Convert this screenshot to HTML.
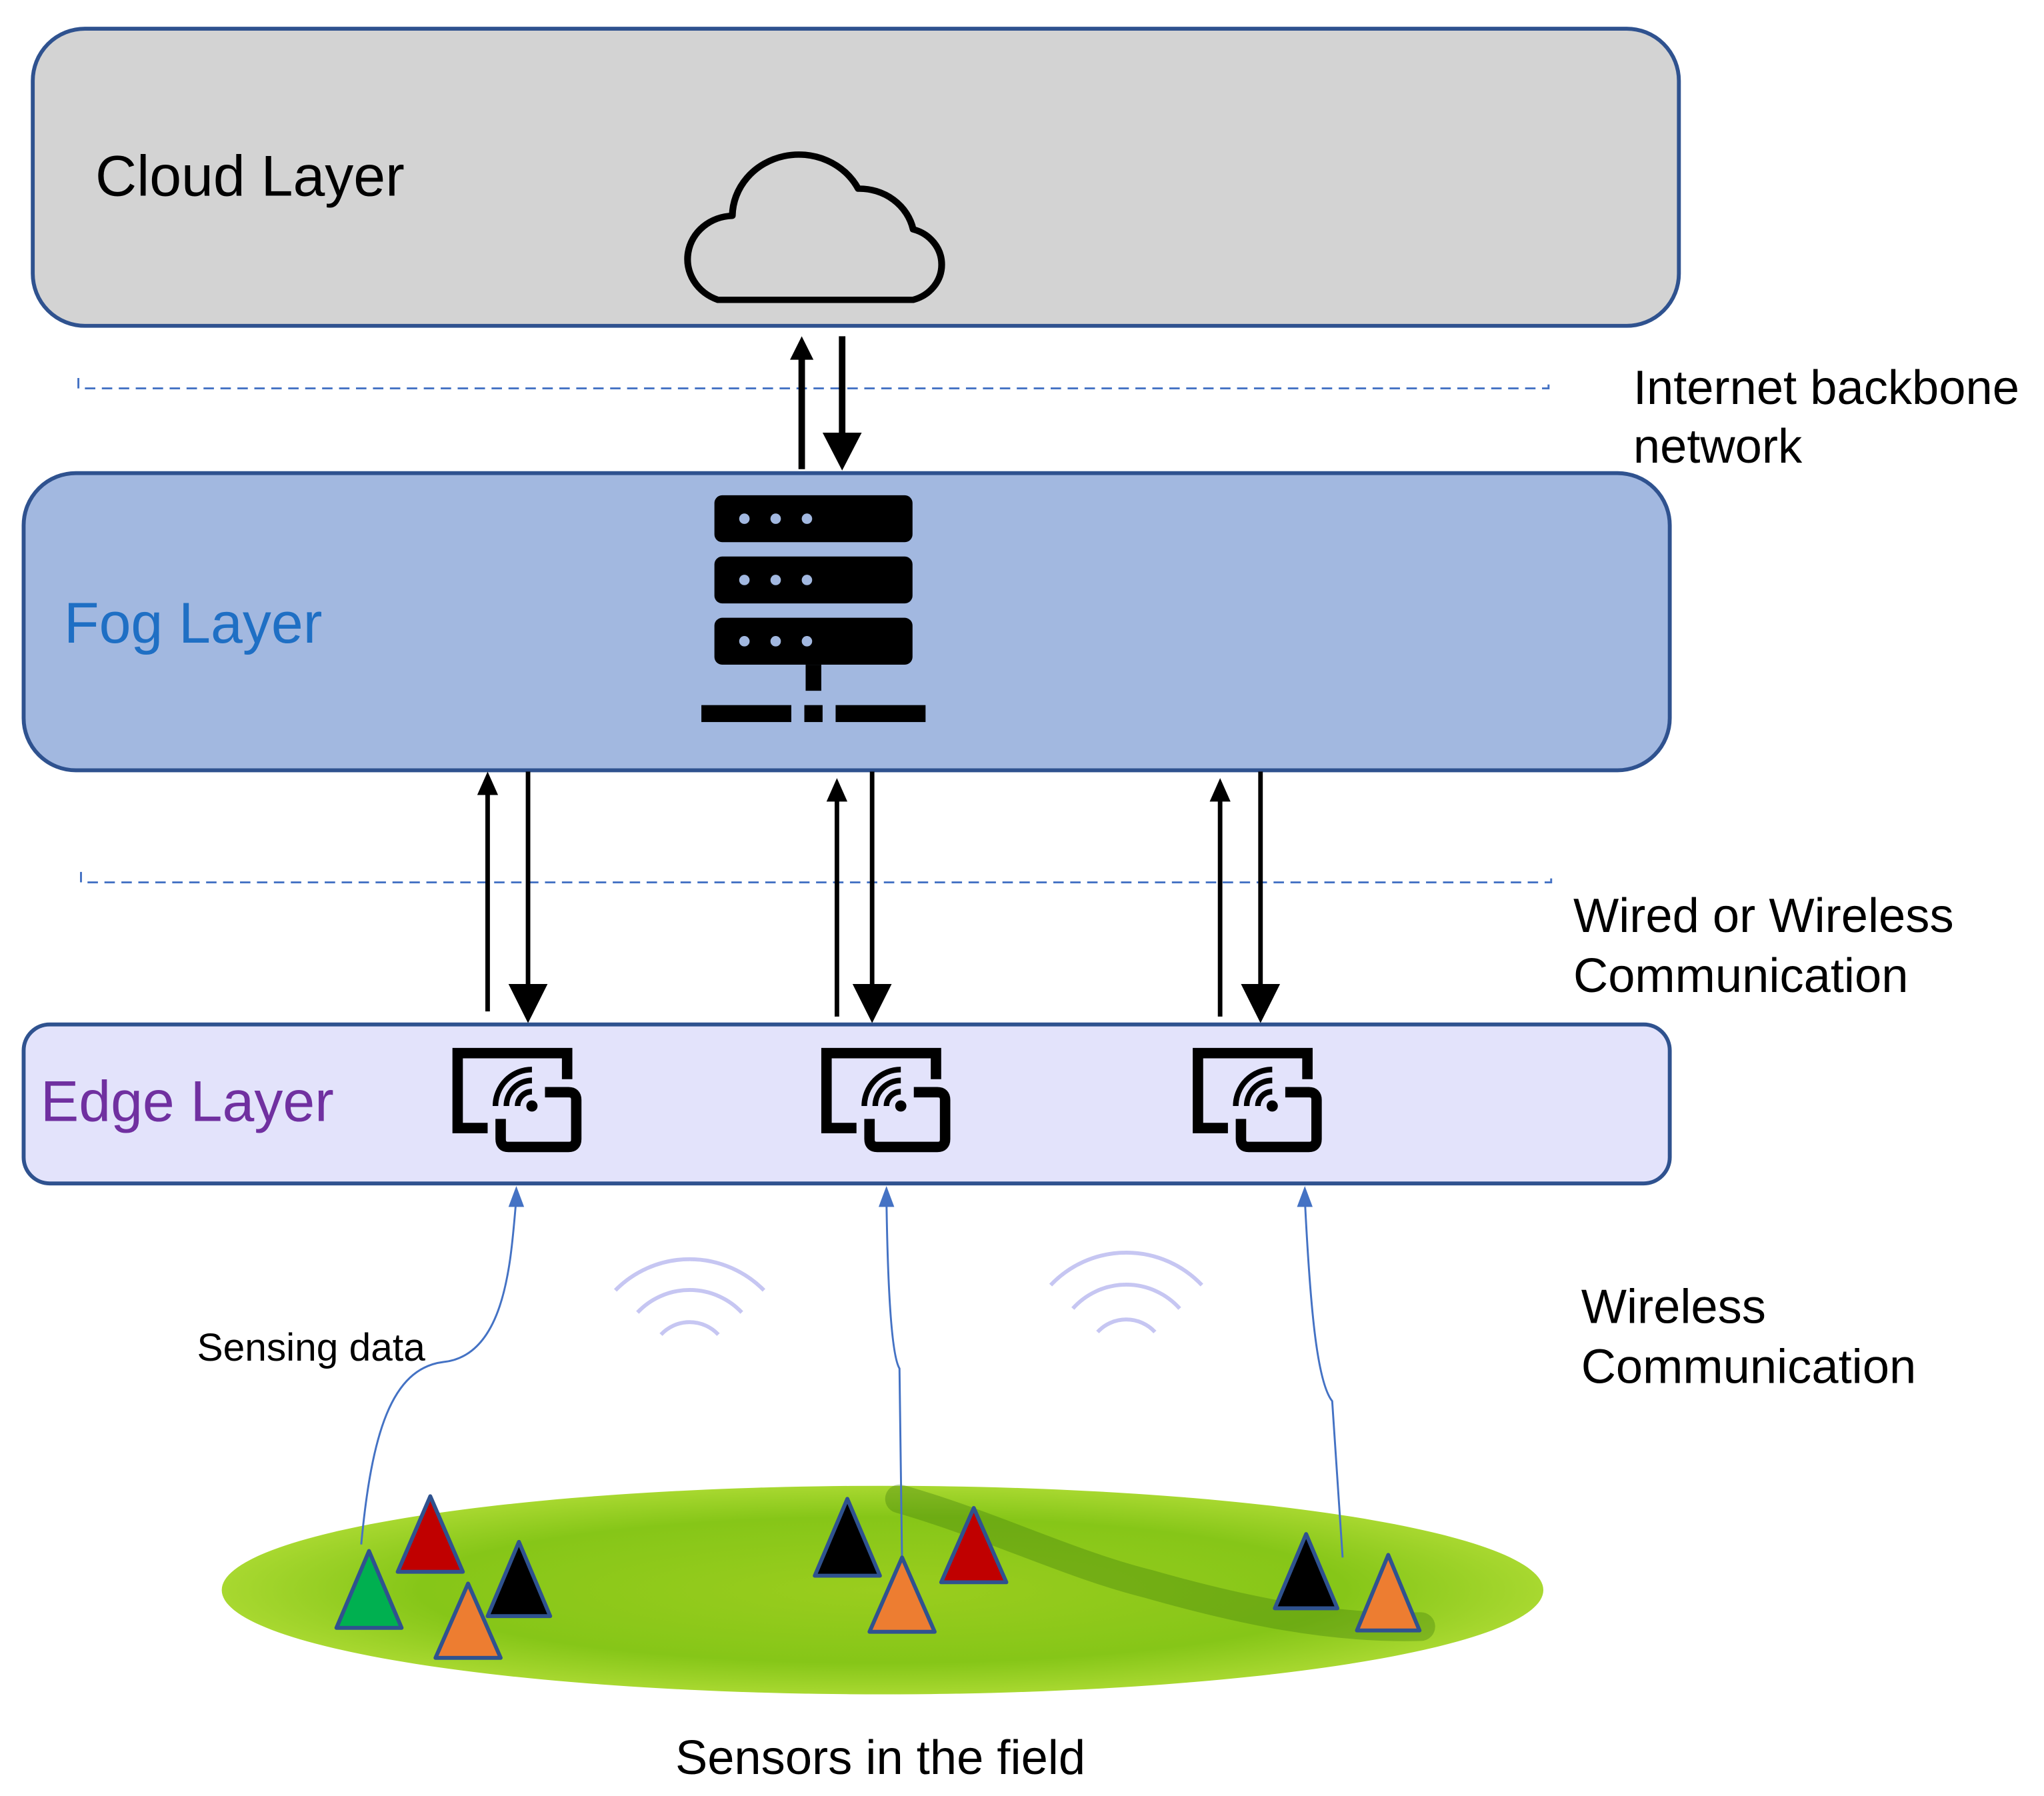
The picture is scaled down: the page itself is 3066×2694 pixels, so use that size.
<!DOCTYPE html>
<html><head><meta charset="utf-8"><style>
html,body{margin:0;padding:0;background:#fff}
svg{display:block}
text{font-family:"Liberation Sans",Arial,sans-serif}
</style></head><body>
<svg width="3066" height="2694" viewBox="0 0 1568 1378" xmlns="http://www.w3.org/2000/svg">
<defs>
<radialGradient id="g" cx="50%" cy="50%" r="50%">
<stop offset="0" stop-color="#9acd1e"/><stop offset="0.7" stop-color="#86c618"/><stop offset="1" stop-color="#a8d830"/>
</radialGradient>
<g id="edge">
<path d="M435,828 V808 H351 V865.5 H374" fill="none" stroke="#000" stroke-width="8"/>
<path d="M418,838 H436 Q442,838 442,844 V874 Q442,880 436,880 H390 Q384,880 384,874 V858.5" fill="none" stroke="#000" stroke-width="8"/>
<circle cx="408" cy="848.6" r="4.3" fill="#000"/>
<path d="M397,848.6 A11,11 0 0 1 408,837.6 M388.4,848.6 A19.6,19.6 0 0 1 408,829 M380,848.6 A28,28 0 0 1 408,820.6" fill="none" stroke="#000" stroke-width="4.3"/>
</g>
</defs>
<!-- Cloud layer -->
<rect x="25" y="22" width="1263" height="228" rx="40" fill="#d3d3d3" stroke="#2f528f" stroke-width="3"/>
<text x="73" y="150" font-size="44">Cloud Layer</text>
<path transform="translate(625,229) scale(1.11,1.04) translate(-625,-229)" d="M558,230 A32,32 0 0 1 568,168 A46,46 0 0 1 655,148 A38,38 0 0 1 693,178 A27,27 0 0 1 693,230 Z" fill="none" stroke="#000" stroke-width="4.7" stroke-linejoin="round"/>
<!-- dashed 1 -->
<path d="M60,290 V298 H1188 V290" fill="none" stroke="#4472c4" stroke-width="1.5" stroke-dasharray="8,5"/>
<line x1="615" y1="360" x2="615" y2="272" stroke="#000" stroke-width="5"/>
<path d="M606,276 L615,258 L624,276 Z" fill="#000"/>
<line x1="646" y1="258" x2="646" y2="344" stroke="#000" stroke-width="5"/>
<path d="M631,332 L646,361 L661,332 Z" fill="#000"/>
<text x="1253" y="310" font-size="37">Internet backbone</text>
<text x="1253" y="355" font-size="37">network</text>
<!-- Fog -->
<rect x="18" y="363" width="1263" height="228" rx="40" fill="#a2b8e0" stroke="#2f528f" stroke-width="3"/>
<text x="49" y="493" font-size="44" fill="#1f6fc4">Fog Layer</text>
<g fill="#000">
<rect x="548" y="380" width="152" height="36" rx="6"/>
<rect x="548" y="427" width="152" height="36" rx="6"/>
<rect x="548" y="474" width="152" height="36" rx="6"/>
<rect x="618" y="510" width="12" height="20"/>
<rect x="538" y="541" width="69" height="13"/>
<rect x="617" y="541" width="14" height="13"/>
<rect x="641" y="541" width="69" height="13"/>
</g>
<g fill="#a2b8e0">
<circle cx="571" cy="398" r="4"/><circle cx="595" cy="398" r="4"/><circle cx="619" cy="398" r="4"/>
<circle cx="571" cy="445" r="4"/><circle cx="595" cy="445" r="4"/><circle cx="619" cy="445" r="4"/>
<circle cx="571" cy="492" r="4"/><circle cx="595" cy="492" r="4"/><circle cx="619" cy="492" r="4"/>
</g>
<!-- dashed 2 -->
<path d="M62,669 V677 H1190 V669" fill="none" stroke="#4472c4" stroke-width="1.5" stroke-dasharray="8,5"/>
<g stroke="#000" stroke-width="3.5">
<line x1="374" y1="776" x2="374" y2="605"/>
<line x1="405" y1="592" x2="405" y2="765"/>
<line x1="642" y1="780" x2="642" y2="610"/>
<line x1="669" y1="592" x2="669" y2="765"/>
<line x1="936" y1="780" x2="936" y2="610"/>
<line x1="967" y1="592" x2="967" y2="765"/>
</g>
<g fill="#000">
<path d="M366,610 L374,592 L382,610 Z"/>
<path d="M390,755 L405,785 L420,755 Z"/>
<path d="M634,615 L642,597 L650,615 Z"/>
<path d="M654,755 L669,785 L684,755 Z"/>
<path d="M928,615 L936,597 L944,615 Z"/>
<path d="M952,755 L967,785 L982,755 Z"/>
</g>
<text x="1207" y="715" font-size="37">Wired or Wireless</text>
<text x="1207" y="761" font-size="37">Communication</text>
<!-- Edge -->
<rect x="18" y="786" width="1263" height="122" rx="20" fill="#e3e3fb" stroke="#2f528f" stroke-width="3"/>
<text x="31" y="860" font-size="44" fill="#7030a0">Edge Layer</text>
<use href="#edge"/>
<use href="#edge" x="283"/>
<use href="#edge" x="568"/>
<!-- wifi arcs faint -->
<g fill="none" stroke="#c6c6f2" stroke-width="3">
<path d="M472,990 A80,80 0 0 1 586,990"/><path d="M489,1007 A55,55 0 0 1 569,1007"/><path d="M507,1024 A30,30 0 0 1 551,1024"/>
<path d="M806,986 A80,80 0 0 1 922,986"/><path d="M823,1004 A55,55 0 0 1 905,1004"/><path d="M842,1022 A30,30 0 0 1 886,1022"/>
</g>
<text x="151" y="1044" font-size="30">Sensing data</text>
<text x="1213" y="1015" font-size="37">Wireless</text>
<text x="1213" y="1061" font-size="37">Communication</text>
<!-- field -->
<ellipse cx="677" cy="1220" rx="507" ry="80" fill="url(#g)"/>
<path d="M690,1150 C760,1170 820,1200 880,1215 C950,1235 1020,1250 1090,1248" fill="none" stroke="#3f7a0c" stroke-width="22" opacity="0.35" stroke-linecap="round"/>
<!-- blue lines -->
<g fill="none" stroke="#4472c4" stroke-width="1.5">
<path d="M277,1185 C285,1100 300,1050 340,1045 C390,1040 392,960 396,920"/>
<path d="M692,1200 L690,1050 C684,1040 681,990 680,920"/>
<path d="M1030,1195 L1022,1075 C1010,1060 1005,1000 1001,920"/>
</g>
<g fill="#4472c4">
<path d="M390,926 L396,910 L402,926 Z"/>
<path d="M674,926 L680,910 L686,926 Z"/>
<path d="M995,926 L1001,910 L1007,926 Z"/>
</g>
<!-- triangles -->
<g stroke="#2f528f" stroke-width="3" stroke-linejoin="round">
<path d="M330,1148 L305,1206 L355,1206 Z" fill="#c00000"/>
<path d="M283,1190 L258,1249 L308,1249 Z" fill="#00b050"/>
<path d="M398,1183 L374,1240 L422,1240 Z" fill="#000"/>
<path d="M359,1215 L334,1272 L384,1272 Z" fill="#ed7d31"/>
<path d="M650,1150 L625,1209 L675,1209 Z" fill="#000"/>
<path d="M747,1157 L722,1214 L772,1214 Z" fill="#c00000"/>
<path d="M692,1195 L667,1252 L717,1252 Z" fill="#ed7d31"/>
<path d="M1002,1177 L978,1234 L1026,1234 Z" fill="#000"/>
<path d="M1065,1193 L1041,1251 L1089,1251 Z" fill="#ed7d31"/>
</g>
<text x="518" y="1361" font-size="37">Sensors in the field</text>
</svg>
</body></html>
